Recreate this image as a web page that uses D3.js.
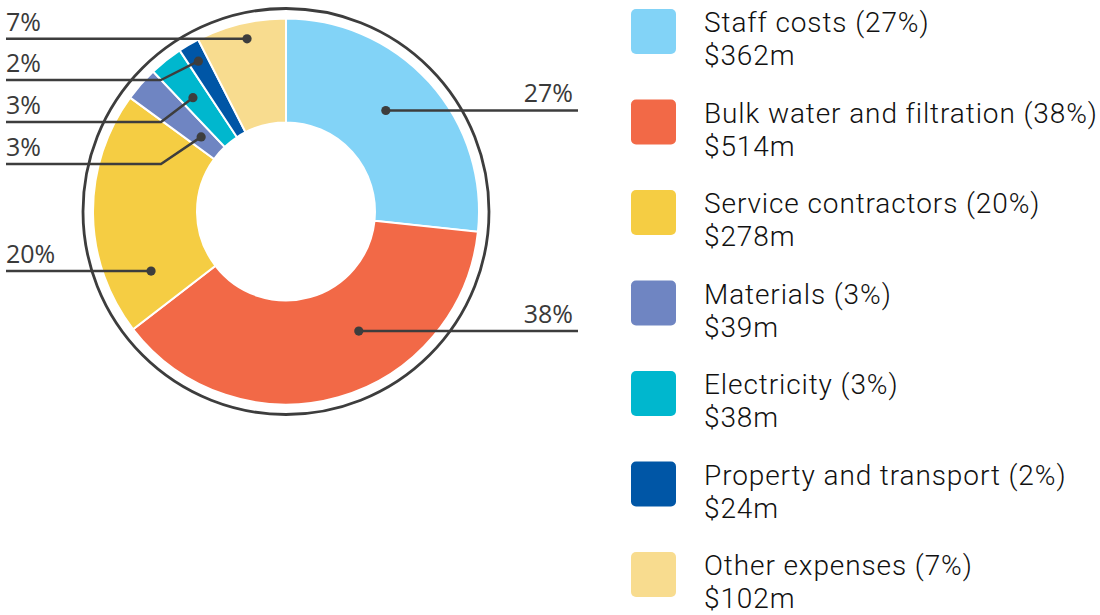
<!DOCTYPE html>
<html>
<head>
<meta charset="utf-8">
<script src="https://cdn.jsdelivr.net/npm/d3@7"></script>
<style>
  html, body { margin: 0; padding: 0; background: #ffffff; }
  svg { display: block; }
</style>
</head>
<body>
<svg id="chart" width="1100" height="615"></svg>
<script>
// Operating expenditure breakdown
const categories = [
  "Staff costs",
  "Bulk water and filtration",
  "Service contractors",
  "Materials",
  "Electricity",
  "Property and transport",
  "Other expenses"
];
const amounts = [362, 514, 278, 39, 38, 24, 102];   // $ millions
const shares = [27, 38, 20, 3, 3, 2, 7];            // per cent of total
const colors = ["#82d3f7", "#f26947", "#f5cd43", "#6f85c2", "#00b7ce", "#0056a6", "#f8dc8f"];

// Callout placement: which side the label sits on, where along the slice the dot goes
const calloutSide = ["right", "right", "left", "left", "left", "left", "left"];
const calloutAlong = [0.465, 0.386, 0.187, 0.5, 0.42, 0.5, 0.53];
const calloutRadius = [142, 140, 147.5, 113, 147, 174, 177];
const calloutElbowY = [null, null, null, 164, 122, 80, null];

const svg = d3.select("#chart");
const cx = 286, cy = 211.5;
const rInner = 89, rOuter = 193, rRing = 203;

const data = categories.map((c, i) => ({
  name: c, amount: amounts[i], share: shares[i], color: colors[i], i
}));

const pie = d3.pie().sort(null).value(d => d.amount);
const arc = d3.arc().innerRadius(rInner).outerRadius(rOuter);
const arcs = pie(data);

const g = svg.append("g").attr("transform", `translate(${cx},${cy})`);

// Outer ring
g.append("circle")
  .attr("r", rRing)
  .attr("fill", "none")
  .attr("stroke", "#3d3d3d")
  .attr("stroke-width", 2.8);

// Slices
g.selectAll("path.slice")
  .data(arcs)
  .join("path")
  .attr("class", "slice")
  .attr("d", arc)
  .attr("fill", d => d.data.color)
  .attr("stroke", "#ffffff")
  .attr("stroke-width", 2);

// Callouts
const ink = "#3d3d3d";
const leftX = 6, rightX = 578, elbowX = 161;
const labelFont = "'Open Sans', 'DejaVu Sans', sans-serif";

arcs.forEach(a => {
  const i = a.data.i;
  const ang = a.startAngle + (a.endAngle - a.startAngle) * calloutAlong[i];
  const r = calloutRadius[i];
  const dx = cx + r * Math.sin(ang);
  const dy = cy - r * Math.cos(ang);
  const side = calloutSide[i];
  let points;
  let lineY;
  if (calloutElbowY[i] !== null) {
    lineY = calloutElbowY[i];
    points = [[leftX, lineY], [elbowX, lineY], [dx, dy]];
  } else {
    lineY = dy;
    points = side === "right" ? [[dx, dy], [rightX, dy]] : [[leftX, dy], [dx, dy]];
  }
  svg.append("path")
    .attr("d", d3.line()(points))
    .attr("fill", "none")
    .attr("stroke", ink)
    .attr("stroke-width", 2.5)
    .attr("stroke-linejoin", "round");
  svg.append("circle")
    .attr("cx", dx).attr("cy", dy).attr("r", 4.6)
    .attr("fill", ink);
  svg.append("text")
    .attr("x", side === "right" ? rightX - 5 : leftX)
    .attr("y", lineY - 8)
    .attr("text-anchor", side === "right" ? "end" : "start")
    .attr("font-family", labelFont)
    .attr("font-size", 25)
    .attr("fill", "#3a3a3a")
    .text(a.data.share + "%");
});

// Legend
const legendFont = "Roboto, 'Liberation Sans', sans-serif";
const legendY = d3.scaleLinear().domain([0, categories.length - 1]).range([9, 552]);
const legend = svg.append("g");
data.forEach(d => {
  const y0 = legendY(d.i);
  legend.append("rect")
    .attr("x", 631).attr("y", y0)
    .attr("width", 45).attr("height", 45)
    .attr("rx", 5).attr("ry", 5)
    .attr("fill", d.color);
  const t = legend.append("text")
    .attr("font-family", legendFont)
    .attr("font-size", 28)
    .attr("font-weight", 300)
    .attr("letter-spacing", 0.9)
    .attr("fill", "#111111");
  t.append("tspan").attr("x", 704).attr("y", y0 + 23)
    .text(`${d.name} (${d.share}%)`);
  t.append("tspan").attr("x", 704).attr("y", y0 + 56)
    .text(`$${d.amount}m`);
});
</script>
</body>
</html>
